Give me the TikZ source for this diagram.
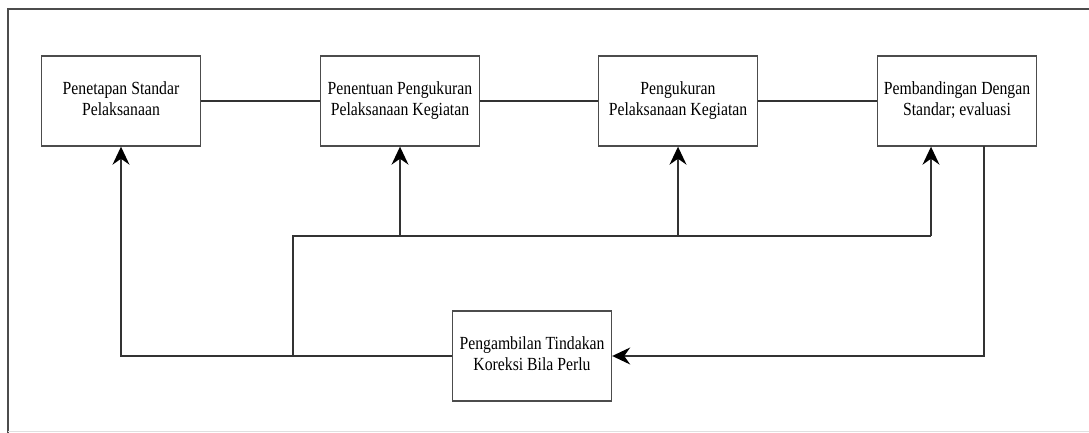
\documentclass[tikz,border=0pt]{standalone}
\usepackage{fontspec}
\setmainfont{Liberation Serif}
\usetikzlibrary{arrows.meta}
\newcommand{\bt}[1]{\scalebox{0.85}[1]{\begin{tabular}{@{}c@{}}#1\end{tabular}}}
\begin{document}
\begin{tikzpicture}[x=1pt,y=-1pt,
  stepbox/.style={draw=black!70, line width=1.4pt, minimum width=159pt, minimum height=90pt, inner sep=0pt, font=\fontsize{18.5}{21}\selectfont},
  conn/.style={draw=black!80, line width=1.3pt},
  arr/.style={conn, -{Stealth[length=18pt,width=17pt,inset=6pt,black]}}]
\useasboundingbox (0,0) rectangle (1089,433);
% outer frame
\draw[black!70, line width=1.4pt] (8,433) -- (8,9) -- (1089,9);
\draw[black!12, line width=1pt] (8,431) -- (1089,431);
% boxes
\node[stepbox] (b1) at (121,101) {\bt{Penetapan Standar\\Pelaksanaan}};
\node[stepbox] (b2) at (400,101) {\bt{Penentuan Pengukuran\\Pelaksanaan Kegiatan}};
\node[stepbox] (b3) at (678,101) {\bt{Pengukuran\\Pelaksanaan Kegiatan}};
\node[stepbox] (b4) at (957,101) {\bt{Pembandingan Dengan\\Standar; evaluasi}};
\node[stepbox] (b5) at (532,356) {\bt{Pengambilan Tindakan\\Koreksi Bila Perlu}};
% top chain
\draw[conn] (b1.east) -- (b2.west);
\draw[conn] (b2.east) -- (b3.west);
\draw[conn] (b3.east) -- (b4.west);
% coordinates
\coordinate (j) at (293,356);
\coordinate (t) at (293,236);
\coordinate (k4) at (931,236);
\coordinate (d4) at (984,146);
% feedback
\draw[arr] (b5.west) -| (b1.south);
\draw[conn] (j) -- (t) -- (k4);
\draw[arr] (k4) -- (k4 |- b4.south);
\draw[arr] (b2.south |- t) -- (b2.south);
\draw[arr] (b3.south |- t) -- (b3.south);
\draw[arr] (d4) |- (b5.east);
\end{tikzpicture}
\end{document}
